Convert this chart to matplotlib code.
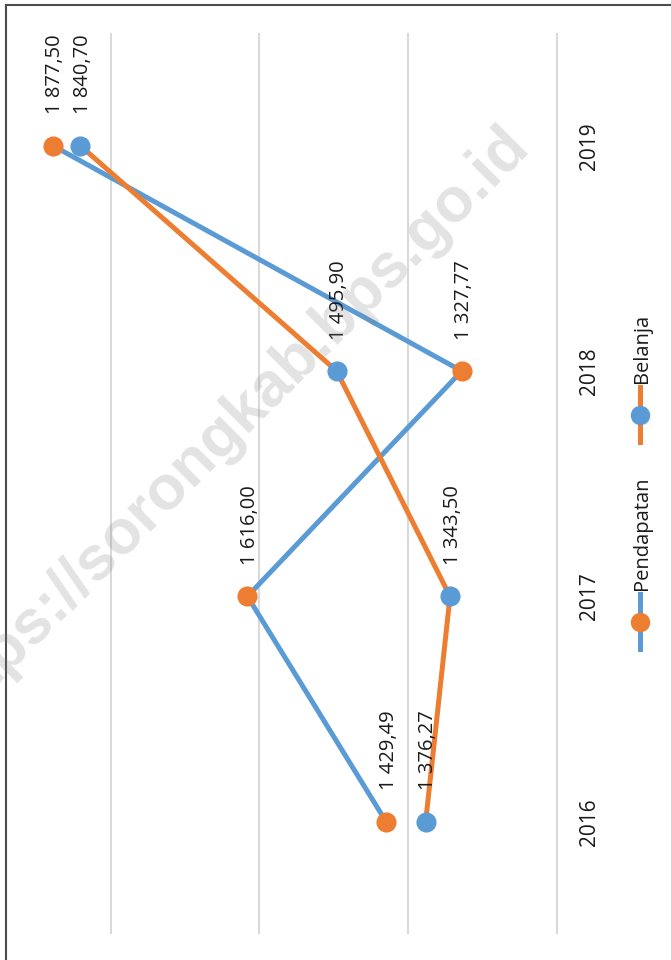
import matplotlib.pyplot as plt
from matplotlib.lines import Line2D

# data ------------------------------------
years = ["2016", "2017", "2018", "2019"]
pendapatan = [1429.49, 1616.00, 1327.77, 1877.50]
belanja = [1376.27, 1343.50, 1495.90, 1840.70]
grid_vals = [1200, 1400, 1600, 1800]
# -----------------------------------------

blue = "#5b9bd5"
orange = "#ed7d31"
txt = "#1a1a1a"
plt.rcParams['font.family'] = ['Open Sans', 'DejaVu Sans']

fig = plt.figure(figsize=(6.71, 9.6), dpi=100)
ax = fig.add_axes([0, 0, 1, 1])
ax.set_xlim(1948.76, 1046.3)     # values grow to the left (chart turned on its side)
ax.set_ylim(-0.6138, 3.6467)
ax.axis('off')

pos = list(range(len(years)))

ax.vlines(grid_vals, -0.5, len(years) - 0.5, color="#d9d9d9", lw=1.5, zorder=1)

# Pendapatan: blue line, orange markers; Belanja: orange line, blue markers
ax.plot(pendapatan, pos, color=blue, lw=3.6, zorder=2)
ax.plot(belanja, pos, color=orange, lw=3.6, zorder=2)
ax.plot(pendapatan, pos, 'o', color=orange, ms=13.5, zorder=3)
ax.plot(belanja, pos, 'o', color=blue, ms=13.5, zorder=3)

def fmt(v):
    s = f"{v:,.2f}"
    return s.replace(",", " ").replace(".", ",")

for vals in (pendapatan, belanja):
    for v, p in zip(vals, pos):
        ax.annotate(fmt(v), (v, p), xytext=(0, 22.5), textcoords='offset points',
                    rotation=90, rotation_mode='anchor', ha='left',
                    va='center_baseline', fontsize=14.5, color=txt)

# category labels
tr = ax.get_yaxis_transform()
for y, p in zip(years, pos):
    ax.text(587 / 671, p, y, transform=tr, rotation=90, rotation_mode='anchor',
            ha='center', va='center_baseline', fontsize=15, color=txt)

# legend (drawn by hand, rotated)
def leg(y0, line_c, mark_c, label):
    xf = 640 / 671
    fig.add_artist(Line2D([xf, xf], [1 - (y0 - 28) / 960, 1 - (y0 + 27) / 960],
                          color=line_c, lw=3.6, transform=fig.transFigure))
    fig.add_artist(Line2D([xf], [1 - y0 / 960], marker='o', color=mark_c, ms=13,
                          transform=fig.transFigure))
    fig.text(xf, 1 - (y0 - 32) / 960, label, rotation=90, rotation_mode='anchor',
             ha='left', va='center_baseline', fontsize=14.5, color=txt)

leg(621.7, blue, orange, "Pendapatan")
leg(415, orange, blue, "Belanja")

# frame (top and left edge only)
fig.add_artist(Line2D([5.5 / 671, 1], [1 - 4.5 / 960, 1 - 4.5 / 960], color="#4d4d4d", lw=1.5))
fig.add_artist(Line2D([5.5 / 671, 5.5 / 671], [0, 1 - 4.5 / 960], color="#4d4d4d", lw=1.5))

# watermark
fig.text(228 / 671, 1 - 427 / 960, "https://sorongkab.bps.go.id", rotation=45,
         ha='center', va='center', fontsize=45, fontweight='bold',
         family='Liberation Sans', color='gray', alpha=0.22, zorder=10)

fig.savefig("out.png", dpi=100)
